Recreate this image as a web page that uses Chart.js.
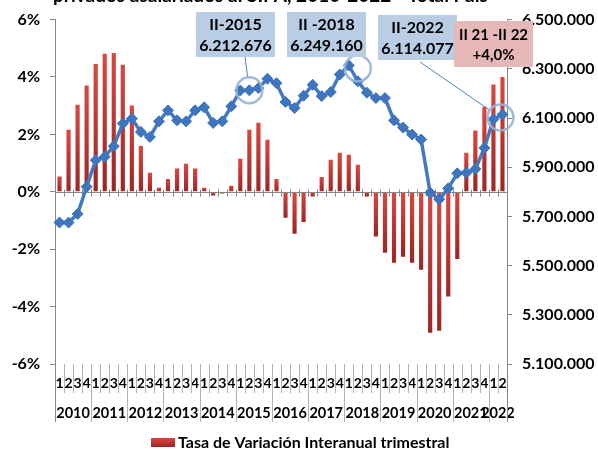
<!DOCTYPE html>
<html lang="es">
<head>
<meta charset="UTF-8">
<title>Asalariados privados SIPA 2010-2022</title>
<script src="https://cdn.jsdelivr.net/npm/chart.js"></script>
<style>
  body { margin: 0; background: #fff; }
  #wrap { width: 598px; height: 450px; }
</style>
</head>
<body>
<div id="wrap"><canvas id="chart" width="598" height="450"></canvas></div>
<script>
// categories
const years = ['2010', '2011', '2012', '2013', '2014', '2015', '2016', '2017', '2018', '2019', '2020', '2021', '2022'];
const quartersPerYear = [4, 4, 4, 4, 4, 4, 4, 4, 4, 4, 4, 4, 2];

// tasa de variacion interanual trimestral (%)
const tasa = [
  0.53, 2.16, 3.03, 3.70,  4.45, 4.81, 4.84, 4.43,  3.01, 1.60, 0.66, 0.14,
  0.45, 0.81, 0.98, 0.81,  0.14, -0.13, -0.06, 0.21,  1.15, 2.16, 2.41, 1.81,
  0.45, -0.90, -1.46, -1.05,  -0.16, 0.52, 1.12, 1.36,  1.29, 0.94, -0.16, -1.56,
  -2.12, -2.47, -2.26, -2.47,  -2.72, -4.91, -4.84, -3.65,  -2.34, 1.36, 2.14, 2.96,
  3.74, 4.00
];

// asalariados privados registrados (eje derecho)
const asalariados = [
  5675000, 5675000, 5710000, 5820500,  5928500, 5942000, 5985500, 6077500,
  6097500, 6043500, 6023000, 6086500,  6131000, 6090500, 6086500, 6131000,
  6143500, 6080000, 6086500, 6147500,  6212000, 6212676, 6221500, 6259500,
  6241500, 6165000, 6140500, 6190500,  6235000, 6189000, 6205500, 6277000,
  6313500, 6249160, 6203000, 6181000,  6181000, 6090500, 6061000, 6033000,
  6012500, 5796500, 5769500, 5814000,  5875000, 5877500, 5892500, 5978500,
  6094500, 6114077
];

const pctTicks = { min: -6, max: 6, step: 2 };
const empTicks = { min: 5100000, max: 6500000, step: 200000 };

// callouts: index of the quarter they point to and their text
const callouts = [
  { idx: 21, lines: ['II-2015', '6.212.676'] },
  { idx: 33, lines: ['II -2018', '6.249.160'] },
  { idx: 49, lines: ['II-2022', '6.114.077'] }
];
const changeNote = ['II 21 -II 22', '+4,0%'];

const titleText = 'privados asalariados al SIPA, 2010-2022 - Total País';
const legendText = 'Tasa de Variación Interanual trimestral';

const quarterLabels = [];
years.forEach((y, k) => {
  for (let q = 1; q <= quartersPerYear[k]; q++) quarterLabels.push(String(q));
});

const FONT = 'Lato, "Open Sans", sans-serif';
const axisGray = '#868686';
const sepGray = '#b3b3b3';

function withDots(v) {
  return String(v).replace(/\B(?=(\d{3})+(?!\d))/g, '.');
}

function barFill(ctx) {
  const chart = ctx.chart;
  const ys = chart.scales.y;
  if (!ys || ctx.parsed === undefined) return '#c0332e';
  const v = ctx.parsed.y;
  const top = ys.getPixelForValue(Math.max(v, 0));
  const bot = ys.getPixelForValue(Math.min(v, 0));
  if (!isFinite(top) || !isFinite(bot) || top === bot) return '#c0332e';
  const g = chart.ctx.createLinearGradient(0, top, 0, bot);
  g.addColorStop(0, '#dc4641');
  g.addColorStop(1, '#9c2523');
  return g;
}

// box layout for the callouts (pixels)
const boxStyle = [
  { x: 196, y: 12, w: 79, h: 45, from: [245, 57], dx: 0, dy: 0 },
  { x: 287, y: 12, w: 79, h: 45, from: [364, 33], dx: 0, dy: -13 },
  { x: 378, y: 15, w: 79, h: 45, from: [420, 62], dx: -2, dy: 3 }
];
const pinkBox = { x: 454, y: 21, w: 79, h: 46 };

function boundary(xs, i) {
  const n = quarterLabels.length;
  if (i <= 0) return xs.left;
  if (i >= n) return xs.right;
  return (xs.getPixelForValue(i - 1) + xs.getPixelForValue(i)) / 2;
}

const decor = {
  id: 'decor',
  afterDatasetDraw(chart, args) {
    if (args.index !== 0) return;
    // category axis crossing at 0 with tick marks
    const { ctx, chartArea } = chart;
    const xs = chart.scales.x, ys = chart.scales.y;
    const y0 = Math.round(ys.getPixelForValue(0)) + 0.5;
    ctx.save();
    ctx.strokeStyle = axisGray;
    ctx.lineWidth = 1;
    ctx.beginPath();
    ctx.moveTo(chartArea.left, y0);
    ctx.lineTo(chartArea.right, y0);
    for (let i = 0; i <= quarterLabels.length; i++) {
      const x = Math.round(boundary(xs, i)) + 0.5;
      ctx.moveTo(x, y0 - 3);
      ctx.lineTo(x, y0 + 4);
    }
    ctx.stroke();
    ctx.restore();
  },
  afterDraw(chart) {
    const { ctx, chartArea } = chart;
    const xs = chart.scales.x, y1 = chart.scales.y1;
    const bottom = chartArea.bottom;
    ctx.save();

    // title (cut off at the top)
    ctx.fillStyle = '#000';
    ctx.font = 'bold 19px ' + FONT;
    ctx.textBaseline = 'alphabetic';
    ctx.textAlign = 'left';
    ctx.fillText(titleText, 53, 2);

    // multi-level category separators
    ctx.strokeStyle = sepGray;
    ctx.lineWidth = 1;
    ctx.beginPath();
    let start = 0;
    const yearBounds = [0];
    quartersPerYear.forEach(n => { start += n; yearBounds.push(start); });
    for (let i = 0; i <= quarterLabels.length; i++) {
      const x = Math.round(boundary(xs, i)) + 0.5;
      const isYear = yearBounds.includes(i);
      ctx.moveTo(x, bottom);
      ctx.lineTo(x, isYear ? bottom + 58 : bottom + 29);
    }
    ctx.stroke();

    // year labels
    ctx.fillStyle = '#000';
    ctx.font = 'bold 14.5px ' + FONT;
    ctx.textAlign = 'center';
    ctx.textBaseline = 'middle';
    years.forEach((y, k) => {
      const a = boundary(xs, yearBounds[k]);
      const b = boundary(xs, yearBounds[k + 1]);
      ctx.fillText(y, (a + b) / 2, bottom + 49);
    });

    // legend
    const lg = ctx.createLinearGradient(0, 438, 0, 447);
    lg.addColorStop(0, '#dc4641');
    lg.addColorStop(1, '#9c2523');
    ctx.fillStyle = lg;
    ctx.fillRect(151, 438, 24, 9);
    ctx.fillStyle = '#000';
    ctx.font = 'bold 16px ' + FONT;
    ctx.textAlign = 'left';
    ctx.fillText(legendText, 178, 443);

    // callouts
    callouts.forEach((c, k) => {
      const s = boxStyle[k];
      const cx = xs.getPixelForValue(c.idx) + s.dx;
      const cy = y1.getPixelForValue(asalariados[c.idx]) + s.dy;
      const r = 13;
      // leader line
      const ang = Math.atan2(s.from[1] - cy, s.from[0] - cx);
      ctx.strokeStyle = '#4f81bd';
      ctx.lineWidth = 1;
      ctx.beginPath();
      ctx.moveTo(s.from[0], s.from[1]);
      ctx.lineTo(cx + Math.cos(ang) * r, cy + Math.sin(ang) * r);
      ctx.stroke();
      // circle
      ctx.strokeStyle = 'rgba(149,179,215,0.9)';
      ctx.lineWidth = 2.5;
      ctx.beginPath();
      ctx.arc(cx, cy, r, 0, Math.PI * 2);
      ctx.stroke();
      // box
      ctx.fillStyle = '#b9cde5';
      ctx.fillRect(s.x, s.y, s.w, s.h);
      ctx.fillStyle = '#000';
      ctx.font = 'bold 16px ' + FONT;
      ctx.textAlign = 'center';
      ctx.textBaseline = 'middle';
      ctx.fillText(c.lines[0], s.x + s.w / 2, s.y + 13);
      ctx.fillText(c.lines[1], s.x + s.w / 2, s.y + 34);
    });

    ctx.fillStyle = '#e6b9b8';
    ctx.fillRect(pinkBox.x, pinkBox.y, pinkBox.w, pinkBox.h);
    ctx.fillStyle = '#000';
    ctx.font = 'bold 15px ' + FONT;
    ctx.fillText(changeNote[0], pinkBox.x + pinkBox.w / 2, pinkBox.y + 14);
    ctx.fillText(changeNote[1], pinkBox.x + pinkBox.w / 2, pinkBox.y + 34);

    // outer axis lines reaching into the label area
    ctx.strokeStyle = axisGray;
    ctx.lineWidth = 1;
    ctx.beginPath();
    const xl = Math.round(chartArea.left) + 0.5, xr = Math.round(chartArea.right) + 0.5;
    ctx.moveTo(xl, bottom); ctx.lineTo(xl, bottom + 58);
    ctx.moveTo(xr, bottom); ctx.lineTo(xr, bottom + 58);
    ctx.stroke();
    ctx.restore();
  }
};

new Chart(document.getElementById('chart'), {
  data: {
    labels: quarterLabels,
    datasets: [
      {
        type: 'bar',
        label: legendText,
        data: tasa,
        yAxisID: 'y',
        backgroundColor: barFill,
        barPercentage: 0.46,
        categoryPercentage: 1,
        order: 1
      },
      {
        type: 'line',
        label: 'Asalariados',
        data: asalariados,
        yAxisID: 'y1',
        borderColor: '#4279c0',
        borderWidth: 3.5,
        pointStyle: 'rectRot',
        pointRadius: 5.5,
        pointBackgroundColor: '#3f75bd',
        pointBorderColor: '#3f75bd',
        pointBorderWidth: 1,
        tension: 0,
        order: 0
      }
    ]
  },
  options: {
    responsive: false,
    animation: false,
    layout: { padding: { top: 19, left: 0, right: 0, bottom: 0 } },
    plugins: {
      legend: { display: false },
      tooltip: { enabled: false }
    },
    scales: {
      x: {
        offset: true,
        grid: { display: false, drawTicks: false },
        border: { display: false },
        ticks: {
          autoSkip: false,
          maxRotation: 0,
          padding: 11,
          color: '#000',
          font: { family: FONT, size: 14, weight: 'bold' }
        },
        afterFit(s) { s.height = 86; }
      },
      y: {
        position: 'left',
        min: pctTicks.min,
        max: pctTicks.max,
        ticks: {
          stepSize: pctTicks.step,
          padding: 10,
          color: '#000',
          font: { family: FONT, size: 16, weight: 'bold' },
          callback: v => v + '%'
        },
        grid: { drawOnChartArea: false, tickLength: 5, color: axisGray },
        border: { color: axisGray },
        afterFit(s) { s.width = 55; }
      },
      y1: {
        position: 'right',
        min: empTicks.min,
        max: empTicks.max,
        ticks: {
          stepSize: empTicks.step,
          padding: 10,
          color: '#000',
          font: { family: FONT, size: 16, weight: 'bold' },
          callback: v => withDots(v)
        },
        grid: { drawOnChartArea: false, tickLength: 5, color: axisGray },
        border: { color: axisGray },
        afterFit(s) { s.width = 91; }
      }
    }
  },
  plugins: [decor]
});
</script>
</body>
</html>
